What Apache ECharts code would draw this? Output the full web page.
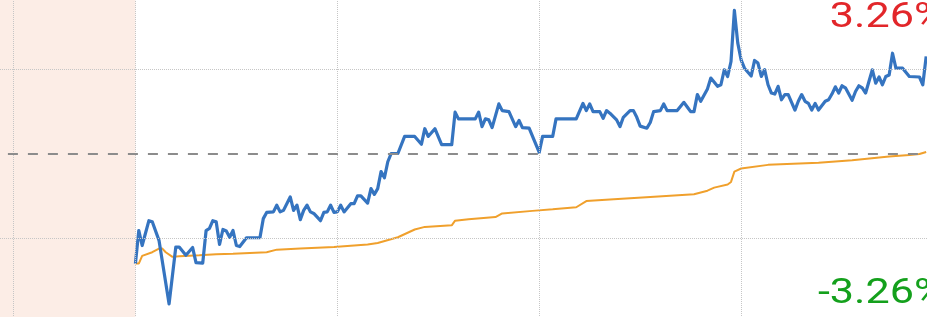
<!DOCTYPE html>
<html><head><meta charset="utf-8">
<script src="https://cdn.jsdelivr.net/npm/echarts@6/dist/echarts.min.js"></script>
<style>
html,body{margin:0;padding:0;background:#fff;width:927px;height:317px;overflow:hidden;position:relative}
#c{position:absolute;left:0;top:-15px;width:943px;height:337px}
</style>
</head><body><div id="c"></div>
<script>
// minute index from 9:30 (0) ; values in % change vs previous close
const priceMinutes = [0,1,2,4,5,7,10,12,13,15,17,18,20,21,22,23,24,25,26,27,28,29,30,31,33,37,38,39,41,42,43,44,46,47,48,49,50,51,52,53,55,56,57,58,59,60,61,62,64,65,66,67,69,70,71,72,73,74,75,76,78,80,83,85,86,87,89,91,94,95,96,101,102,103,104,105,106,108,109,111,113,114,115,117,120,121,124,125,131,133,134,135,136,138,139,140,141,143,144,145,147,148,149,150,152,153,154,156,157,158,161,163,164,165,166,167,168,170,171,173,174,175,176,177,178,179,180,181,183,184,185,186,187,188,189,190,191,192,193,194,196,197,198,199,200,201,202,203,205,206,207,208,209,210,211,213,214,215,216,217,219,220,221,222,223,224,225,226,228,230,233,234,235];
const priceValues = [-2.13,-1.49,-1.78,-1.30,-1.32,-1.68,-2.91,-1.81,-1.81,-1.97,-1.82,-2.11,-2.12,-1.49,-1.45,-1.30,-1.32,-1.76,-1.47,-1.50,-1.62,-1.49,-1.78,-1.80,-1.63,-1.63,-1.26,-1.14,-1.13,-1.00,-1.13,-1.10,-0.84,-1.10,-1.00,-1.28,-1.10,-1.00,-1.13,-1.16,-1.30,-1.14,-1.13,-1.00,-1.14,-1.13,-1.00,-1.13,-0.97,-0.97,-0.82,-0.82,-0.96,-0.68,-0.79,-0.68,-0.35,-0.47,-0.16,0.00,0.00,0.33,0.33,0.18,0.48,0.33,0.48,0.17,0.17,0.80,0.67,0.67,0.80,0.52,0.67,0.65,0.50,0.96,0.83,0.81,0.52,0.64,0.50,0.49,0.02,0.33,0.33,0.67,0.67,0.97,0.83,0.96,0.81,0.81,0.68,0.83,0.78,0.65,0.52,0.70,0.83,0.83,0.70,0.53,0.49,0.60,0.81,0.83,0.96,0.83,0.83,0.99,0.90,0.81,0.81,1.14,1.01,1.25,1.46,1.30,1.33,1.62,1.49,1.78,2.77,2.14,1.81,1.65,1.50,1.80,1.75,1.49,1.62,1.33,1.17,1.15,1.30,1.04,1.14,1.14,0.84,1.01,1.14,1.01,0.97,0.84,0.97,0.84,1.01,1.04,1.15,1.29,1.17,1.31,1.27,1.03,1.20,1.31,1.27,1.17,1.62,1.36,1.48,1.33,1.49,1.52,1.94,1.65,1.65,1.49,1.48,1.33,1.88];
const avgMinutes = [0,1,2,5,7,8,9,11,13,19,24,29,39,42,49,59,69,72,78,83,86,94,95,99,107,109,118,124,131,134,141,153,166,170,172,176,177,178,180,188,203,213,224,230,233,235];
const avgValues = [-2.13,-2.13,-1.98,-1.91,-1.84,-1.84,-1.91,-2.00,-1.99,-1.97,-1.95,-1.94,-1.91,-1.86,-1.84,-1.81,-1.76,-1.73,-1.62,-1.47,-1.42,-1.39,-1.30,-1.27,-1.23,-1.16,-1.11,-1.08,-1.04,-0.92,-0.89,-0.84,-0.79,-0.72,-0.66,-0.60,-0.55,-0.35,-0.29,-0.22,-0.18,-0.13,-0.06,-0.03,-0.01,0.03];
const yLabels = ['3.26%', '-3.26%'];
const yLimit = 3.26;
const levelLines = [1.63, -1.63];
const timeLines = [-36.4, 0, 60, 120, 180];
const preStart = -40.25, dayEnd = 240;

const priceData = priceMinutes.map((m, i) => [m, priceValues[i]]);
const avgData = avgMinutes.map((m, i) => [m, avgValues[i]]);

const chart = echarts.init(document.getElementById('c'), null, {renderer: 'canvas'});
const dotted = {color: '#c6c6c6', type: 'dotted', width: 1};
chart.setOption({
  animation: false,
  backgroundColor: '#ffffff',
  grid: {left: 0, right: 0, top: 0, bottom: 0, containLabel: false},
  xAxis: {type: 'value', min: preStart, max: dayEnd, show: false, splitLine: {show: false}},
  yAxis: {type: 'value', min: -yLimit, max: yLimit, show: false, splitLine: {show: false}},
  series: [
    {
      type: 'line', data: avgData, showSymbol: false, symbol: 'none',
      lineStyle: {color: '#f0a02c', width: 2}, z: 2,
      markArea: {silent: true, itemStyle: {color: '#fcede6'},
        data: [[{xAxis: preStart}, {xAxis: 0}]]},
      markLine: {silent: true, symbol: 'none', label: {show: false}, animation: false,
        data: [
          ...timeLines.map(t => ({xAxis: t, lineStyle: dotted})),
          ...levelLines.map(v => ({yAxis: v, lineStyle: dotted})),
          [{coord: [-37.9, 0], lineStyle: {color: '#8c8c8c', type: [10, 10], width: 2}}, {coord: [dayEnd, 0]}]
        ]}
    },
    {
      type: 'line', data: priceData, showSymbol: false, symbol: 'none',
      lineStyle: {color: '#3574c0', width: 3.2, join: 'round'}, z: 3
    }
  ],
  graphic: [
    {type: 'text', x: 945.5, y: 33.8, scaleX: 1.25, z: 10,
      style: {text: yLabels[0], fill: '#e2262a', fontSize: 34.5, fontFamily: 'Roboto', align: 'right', verticalAlign: 'middle'}},
    {type: 'text', x: 945.5, y: 309.3, scaleX: 1.25, z: 10,
      style: {text: yLabels[1], fill: '#14a01c', fontSize: 34.5, fontFamily: 'Roboto', align: 'right', verticalAlign: 'middle'}}
  ]
});
</script></body></html>
